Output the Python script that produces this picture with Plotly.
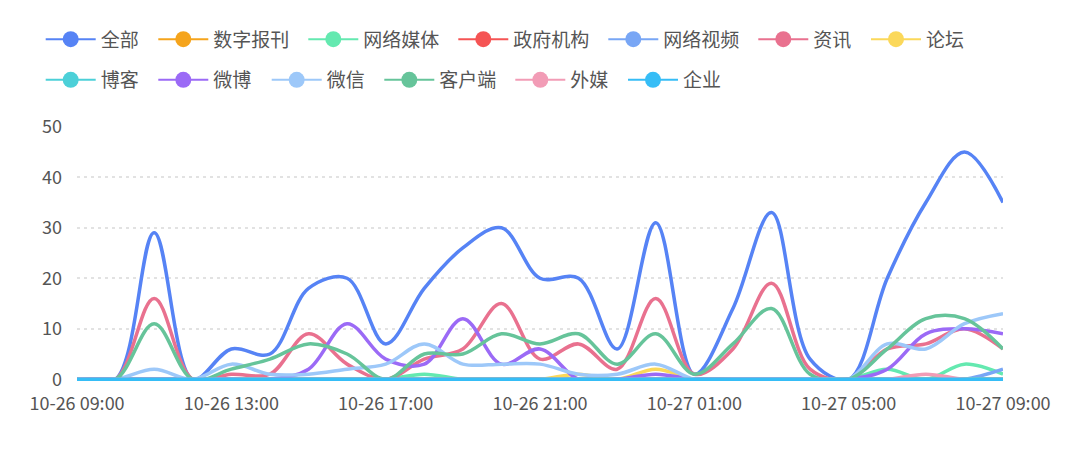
import plotly.graph_objects as go

# ---------------- data ----------------
times = ["10-26 09:00", "10-26 10:00", "10-26 11:00", "10-26 12:00", "10-26 13:00",
         "10-26 14:00", "10-26 15:00", "10-26 16:00", "10-26 17:00", "10-26 18:00",
         "10-26 19:00", "10-26 20:00", "10-26 21:00", "10-26 22:00", "10-26 23:00",
         "10-27 00:00", "10-27 01:00", "10-27 02:00", "10-27 03:00", "10-27 04:00",
         "10-27 05:00", "10-27 06:00", "10-27 07:00", "10-27 08:00", "10-27 09:00"]
tick_labels = ["10-26 09:00", "10-26 13:00", "10-26 17:00", "10-26 21:00",
               "10-27 01:00", "10-27 05:00", "10-27 09:00"]

series_names = ["全部", "数字报刊", "网络媒体", "政府机构", "网络视频", "资讯", "论坛",
                "博客", "微博", "微信", "客户端", "外媒", "企业"]

quanbu    = [0, 0, 29, 0, 6, 5, 18, 20, 7, 18, 26, 30, 20, 20, 6, 31, 1, 14, 33, 4, 0, 20, 35, 45, 35]
shuzibaokan = [0, 0, 0, 0, 0, 0, 0, 0, 0, 0, 0, 0, 0, 0, 0, 0, 0, 0, 0, 0, 0, 0, 0, 0, 0]
wangluomeiti = [0, 0, 0, 0, 0, 0, 0, 0, 0, 1, 0, 0, 0, 0, 0, 0, 0, 0, 0, 0, 0, 2, 0, 3, 1]
zhengfu   = [0, 0, 0, 0, 0, 0, 0, 0, 0, 0, 0, 0, 0, 0, 0, 0, 0, 0, 0, 0, 0, 0, 0, 0, 0]
wangluoshipin = [0, 0, 0, 0, 0, 0, 0, 0, 0, 0, 0, 0, 0, 0, 0, 0, 0, 0, 0, 0, 0, 0, 0, 0, 2]
zixun     = [0, 0, 16, 0, 1, 1, 9, 3, 0, 4, 6, 15, 4, 7, 2, 16, 1, 6, 19, 2, 0, 6, 7, 10, 6]
luntan    = [0, 0, 0, 0, 0, 0, 0, 0, 0, 0, 0, 0, 0, 1, 0, 2, 0, 0, 0, 0, 0, 0, 0, 0, 0]
boke      = [0, 0, 0, 0, 0, 0, 0, 0, 0, 0, 0, 0, 0, 0, 0, 0, 0, 0, 0, 0, 0, 0, 0, 0, 0]
weibo     = [0, 0, 0, 0, 0, 0, 2, 11, 4, 3, 12, 3, 6, 0, 0, 1, 0, 0, 0, 0, 0, 2, 9, 10, 9]
weixin    = [0, 0, 2, 0, 3, 1, 1, 2, 3, 7, 3, 3, 3, 1, 1, 3, 0, 0, 0, 0, 0, 7, 6, 11, 13]
kehuduan  = [0, 0, 11, 0, 2, 4, 7, 5, 0, 5, 5, 9, 7, 9, 3, 9, 1, 7, 14, 1, 0, 6, 12, 12, 6]
waimei    = [0, 0, 0, 0, 0, 0, 0, 0, 0, 0, 0, 0, 0, 0, 0, 0, 0, 0, 0, 0, 0, 0, 1, 0, 0]
qiye      = [0, 0, 0, 0, 0, 0, 0, 0, 0, 0, 0, 0, 0, 0, 0, 0, 0, 0, 0, 0, 0, 0, 0, 0, 0]

series_values = [quanbu, shuzibaokan, wangluomeiti, zhengfu, wangluoshipin, zixun, luntan,
                 boke, weibo, weixin, kehuduan, waimei, qiye]

y_ticks = [0, 10, 20, 30, 40, 50]

# ---------------- style ----------------
colors = ["#5683f5", "#f5a41c", "#64e9b0", "#f55454", "#78a6f5", "#e9718f", "#fbd85a",
          "#4cd0d8", "#9b6af6", "#9dc8f9", "#66c49a", "#f29cb6", "#36bdf6"]

W, H = 1080, 453
BODY = 8  # default page margin of the html body
FONT = "Noto Sans CJK SC, Noto Sans, sans-serif"
TXT = "#555555"

# legend layout (circle centre x / row centre y, in page px)
legend_cx = [70.7, 183.3, 333.3, 483.3, 633.3, 783.3, 896.0,
             70.7, 183.3, 296.7, 409.3, 540.3, 653.0]
legend_cy = [39.3] * 7 + [80.0] * 6
ITEMW = 50
SYM_OFF = 30  # distance from legend box left to symbol centre

fig = go.Figure()

for i, (name, vals, col) in enumerate(zip(series_names, series_values, colors)):
    lg = "legend" if i == 0 else f"legend{i + 1}"
    fig.add_trace(go.Scatter(
        x=times, y=vals, name=name, mode="lines",
        line=dict(color=col, width=3.5, shape="spline", smoothing=1.0),
        legendgroup=name, showlegend=False, hoverinfo="x+y+name",
    ))
    # legend entry (no data drawn)
    fig.add_trace(go.Scatter(
        x=[None], y=[None], name=name, mode="lines+markers",
        line=dict(color=col, width=2),
        marker=dict(color=col, size=16),
        legendgroup=name, showlegend=True, legend=lg, hoverinfo="skip",
    ))

layout_legends = {}
for i in range(len(series_names)):
    key = "legend" if i == 0 else f"legend{i + 1}"
    layout_legends[key] = dict(
        xref="container", yref="container",
        x=(legend_cx[i] - BODY - SYM_OFF) / W, xanchor="left",
        y=1 - (legend_cy[i] - BODY) / H, yanchor="middle",
        orientation="h", bgcolor="rgba(0,0,0,0)", borderwidth=0,
        itemwidth=ITEMW,
        font=dict(family=FONT, size=19, color=TXT),
    )

fig.update_layout(
    width=W, height=H,
    paper_bgcolor="white", plot_bgcolor="white",
    margin=dict(l=77 - BODY, r=W - 1003 + BODY, t=126 - BODY, b=H - 381 + BODY, pad=0),
    font=dict(family=FONT, size=18, color=TXT),
    **layout_legends,
)

fig.update_xaxes(
    type="category", range=[0, len(times) - 1],
    tickmode="array", tickvals=tick_labels, ticktext=tick_labels,
    showgrid=False, zeroline=False, showline=False, ticks="",
    tickfont=dict(family=FONT, size=18, color=TXT),
    ticklabelstandoff=10,
)
fig.update_yaxes(
    range=[-0.34, 50.14], tickmode="array", tickvals=y_ticks,
    showgrid=True, gridcolor="#e2e2e2", gridwidth=1.5, griddash="3px,4px",
    zeroline=False, showline=False, ticks="",
    tickfont=dict(family=FONT, size=18, color=TXT),
    ticklabelstandoff=14,
)

fig.write_html("out.html")
